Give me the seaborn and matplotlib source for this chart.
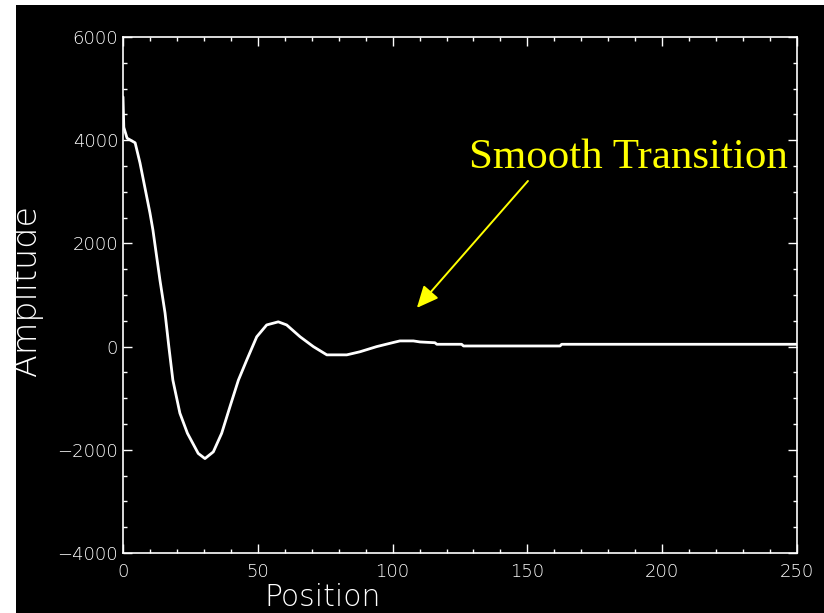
import matplotlib
matplotlib.use("Agg")
import matplotlib.pyplot as plt
from matplotlib.patches import Rectangle
from matplotlib.ticker import MultipleLocator
import seaborn as sns
import pandas as pd

# Damped response traced along the position axis
position = [0, 0.3, 1.5, 4.5, 6.3, 10, 11.1, 13.7, 15.6, 17, 18.5, 21.1, 23.9,
            27.9, 30.4, 33.5, 36.6, 39.7, 42.8, 45.9, 49.6, 53.3, 57.6, 60.7,
            65.7, 70.6, 75.6, 83, 87.9, 94.1, 100.3, 102.7, 107.7, 110.2, 115.7,
            116.4, 125.6, 126.3, 162.1, 162.7, 250]
amplitude = [4840, 4250, 4040, 3950, 3560, 2590, 2260, 1290, 650, 0, -650,
             -1290, -1680, -2070, -2170, -2040, -1680, -1160, -650, -260, 190,
             420, 480, 420, 190, 0, -160, -160, -100, 0, 80, 110, 110, 90, 75,
             45, 45, 12, 12, 45, 45]

x_ticks = [0, 50, 100, 150, 200, 250]
y_ticks = [-4000, -2000, 0, 2000, 4000, 6000]

note_text = "Smooth Transition"
note_tip = (109.0, 750)
note_tail = (150.2, 3210)
note_xy = (128.3, 3461)

df = pd.DataFrame({"Position": position, "Amplitude": amplitude})

sns.set_theme(style="dark")
plt.rcParams["font.family"] = ["DejaVu Sans"]

fig = plt.figure(figsize=(8.24, 6.13), dpi=100, facecolor="white")
# black canvas with a thin white margin on the left and top
fig.patches.append(Rectangle((16 / 824, 0), 1 - 16 / 824, (613 - 5) / 613,
                             transform=fig.transFigure, facecolor="black",
                             edgecolor="none", zorder=-10))

ax = fig.add_axes([123 / 824, 60 / 613, 674 / 824, 516 / 613])
ax.set_facecolor("black")

sns.lineplot(data=df, x="Position", y="Amplitude", color="white", lw=2.0,
             estimator=None, sort=False, ax=ax)

ax.set_xlim(0, 250)
ax.set_ylim(-4000, 6000)
ax.set_xticks(x_ticks)
ax.set_yticks(y_ticks)
ax.xaxis.set_minor_locator(MultipleLocator(10))
ax.yaxis.set_minor_locator(MultipleLocator(500))
ax.grid(False)

for s in ax.spines.values():
    s.set_visible(True)
    s.set_color("white")
    s.set_linewidth(1.2)

ax.tick_params(which="both", direction="in", colors="white",
               top=True, right=True, bottom=True, left=True, width=1.0)
ax.tick_params(which="major", length=6.5)
ax.tick_params(which="minor", length=3.2)
ax.tick_params(axis="x", which="major", pad=7.5, labelsize=13, labelcolor="white")
ax.tick_params(axis="y", which="major", pad=3.5, labelsize=13, labelcolor="white")
for lab in ax.get_xticklabels() + ax.get_yticklabels():
    lab.set_fontweight("light")

ax.set_xlabel("Position", fontsize=21.5, color="white", fontweight="light")
ax.set_ylabel("Amplitude", fontsize=24, color="white", fontweight="light")
ax.xaxis.label.set_va("baseline")
ax.xaxis.set_label_coords(0.296, -0.1025)
ax.yaxis.set_label_coords(-0.118, 0.509)

ax.text(note_xy[0], note_xy[1], note_text, color="#FFFF00", fontsize=31,
        family="Liberation Serif", ha="left", va="baseline")
ax.annotate("", xy=note_tip, xytext=note_tail,
            arrowprops=dict(arrowstyle="-|>,head_length=1.1,head_width=0.5",
                            color="#FFFF00", lw=1.4, shrinkA=0, shrinkB=0))

fig.savefig("out.png", dpi=100, facecolor=fig.get_facecolor())
